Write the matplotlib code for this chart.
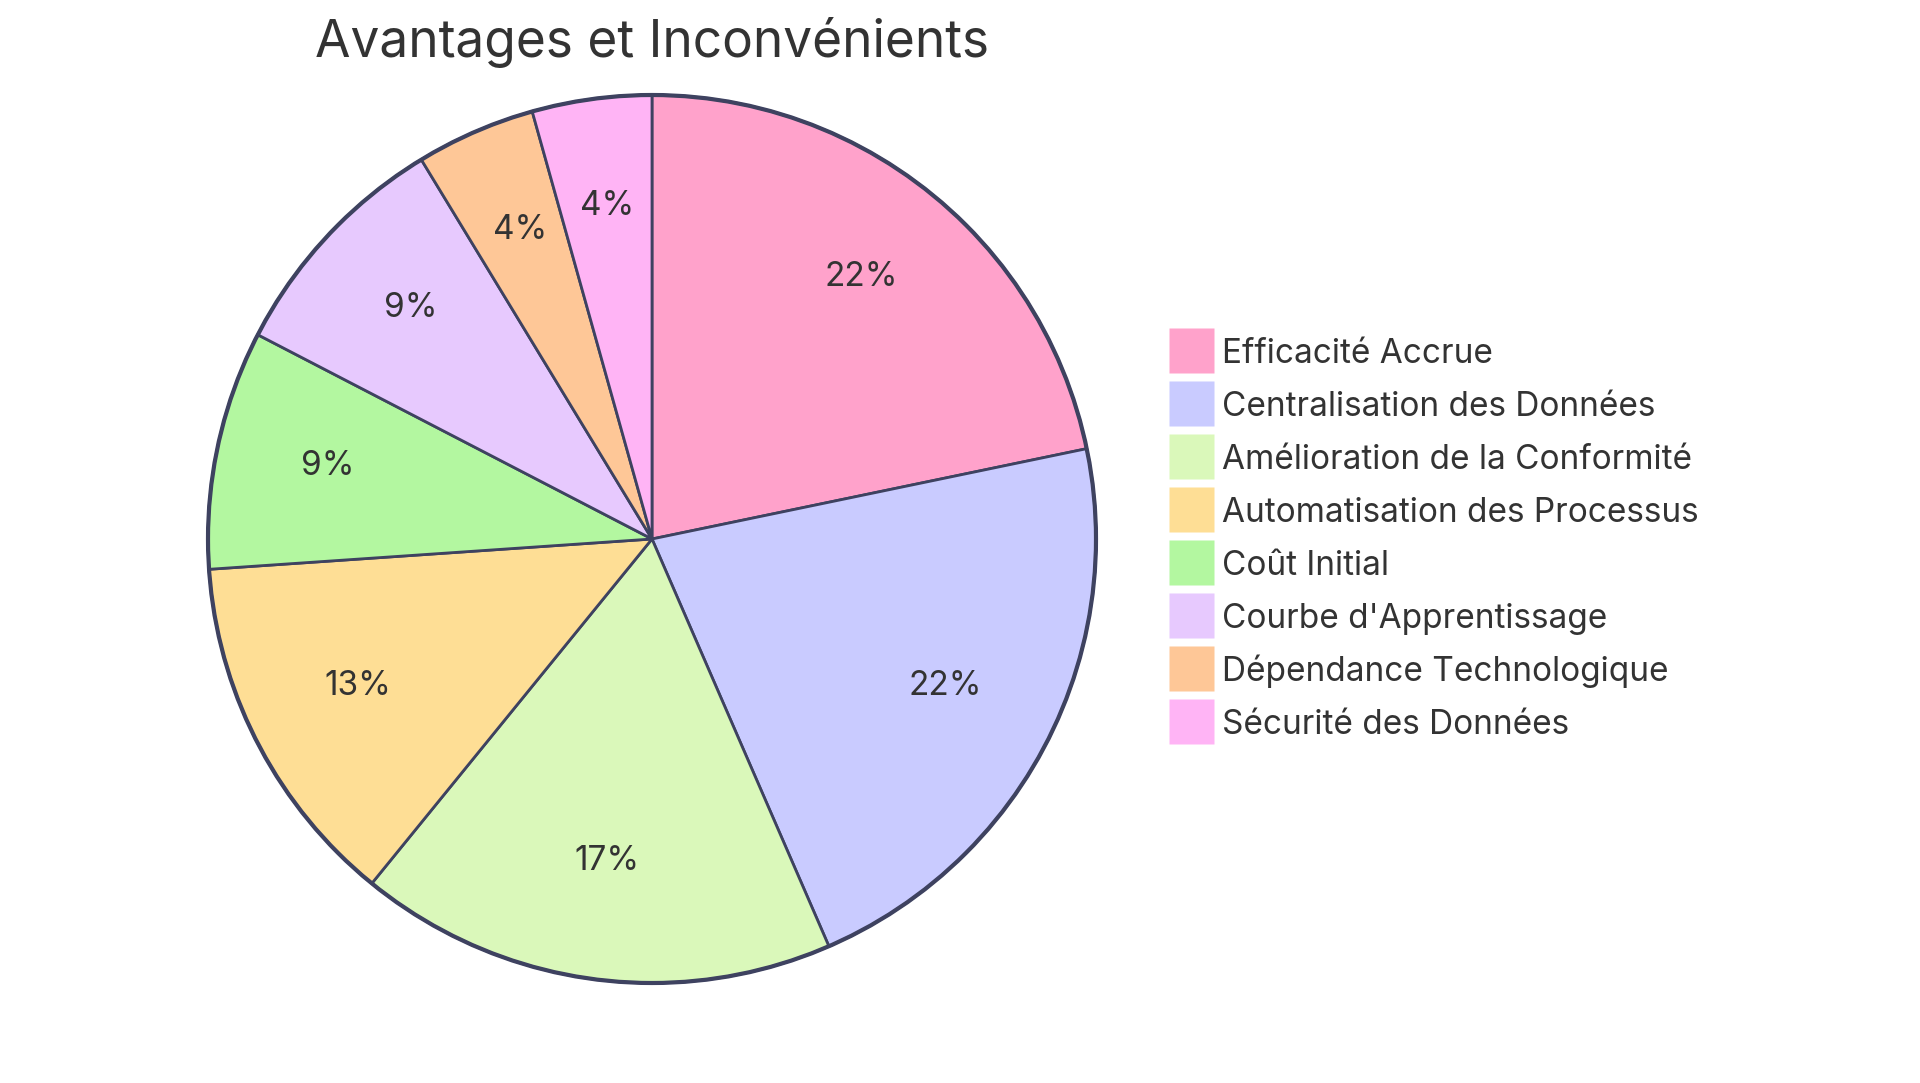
import matplotlib
matplotlib.use('Agg')
import matplotlib.pyplot as plt
from matplotlib.lines import Line2D
from matplotlib.patches import Circle

categories = ['Efficacité Accrue', 'Centralisation des Données', 'Amélioration de la Conformité',
              'Automatisation des Processus', 'Coût Initial', "Courbe d'Apprentissage",
              'Dépendance Technologique', 'Sécurité des Données']
values = [5, 5, 4, 3, 2, 2, 1, 1]
slice_colors = ['#FFA2CB', '#C9CBFF', '#DAF8BA', '#FEDE95', '#B3F7A0', '#E7C9FE', '#FEC797', '#FFB4F5']
title = 'Avantages et Inconvénients'

plt.rcParams['font.family'] = ['Inter', 'DejaVu Sans']
text_col = '#333333'
edge_col = '#3e4260'

W, H = 1920, 1083
fig = plt.figure(figsize=(W / 100, H / 100), dpi=100)

# pie placed in pixel coords
cx, cy, r = 652, 539, 444
ax = fig.add_axes([(cx - r) / W, (H - cy - r) / H, 2 * r / W, 2 * r / H])
wedges, texts, autotexts = ax.pie(
    values, colors=slice_colors, startangle=90, counterclock=False,
    autopct=lambda p: f'{p:.0f}%', pctdistance=0.745,
    wedgeprops=dict(edgecolor=edge_col, linewidth=2, clip_on=False),
    textprops=dict(color=text_col, fontsize=24))
# labels sit a little higher than their anchor in the original
for t in autotexts:
    x, y = t.get_position()
    t.set_position((x, y + 0.012))
ax.add_patch(Circle((0, 0), 1, fill=False, edgecolor=edge_col, linewidth=3, zorder=5, clip_on=False))
ax.set_xlim(-1, 1)
ax.set_ylim(-1, 1)
ax.set_aspect('equal')
ax.axis('off')

fig.text(cx / W, 1 - 42 / H, title, ha='center', va='center', fontsize=37, color=text_col)

# square markers of 45 px for the legend keys
handles = [Line2D([], [], marker='s', markersize=32.4, markerfacecolor=c, markeredgecolor='none',
                  linestyle='none') for c in slice_colors]
leg = fig.legend(handles, categories, loc='upper left', bbox_to_anchor=(1168 / W, 1 - 337 / H),
                 frameon=False, fontsize=24, handlelength=1.35, handleheight=1.0,
                 handletextpad=0.27, labelspacing=0.59, borderpad=0, borderaxespad=0)
for t in leg.get_texts():
    t.set_color(text_col)

fig.savefig('out.png', dpi=100, facecolor='white')
